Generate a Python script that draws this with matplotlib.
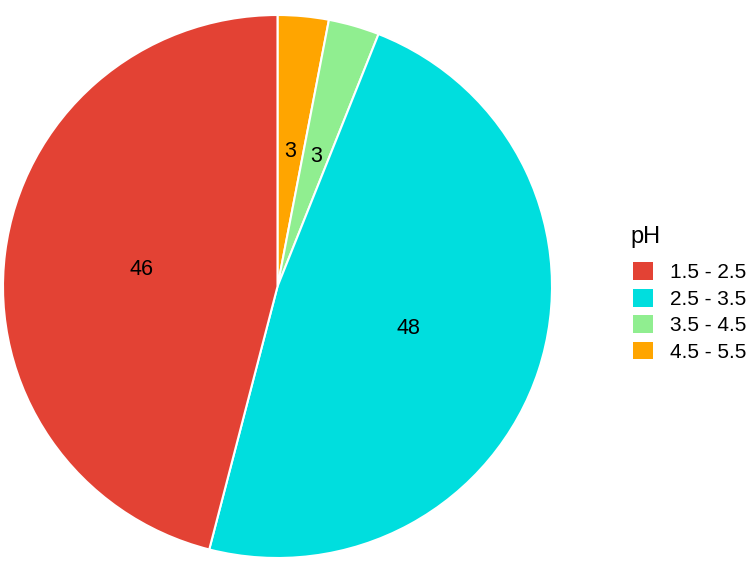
'''
Pie chart of pH classes
'''

import numpy as np
import matplotlib
matplotlib.use('Agg')
import matplotlib.pyplot as plt

# ═══ Data ═════════════════════════════════════════════════════════════════

ph_classes = ['1.5 - 2.5', '2.5 - 3.5', '3.5 - 4.5', '4.5 - 5.5']
counts = [46, 48, 3, 3]
colors = ['#E34234', '#00DEDE', '#90EE90', '#FFA500']

# ═══ Figure ═══════════════════════════════════════════════════════════════

plt.rcParams['font.family'] = ['Liberation Sans', 'DejaVu Sans']

W, H = 750, 578
fig = plt.figure(figsize=(W/100, H/100), dpi=100)

# pie box in px: x 3..552, y 15..558 (slightly wider than tall)
x0, x1, y0, y1 = 3, 552, 15, 558
ax = fig.add_axes([x0/W, (H - y1)/H, (x1 - x0)/W, (y1 - y0)/H])

# clockwise from top: 4.5-5.5, 3.5-4.5, 2.5-3.5, 1.5-2.5
order = [3, 2, 1, 0]
wedges, texts = ax.pie([counts[i] for i in order],
                       colors=[colors[i] for i in order],
                       labels=[str(counts[i]) for i in order],
                       labeldistance=0.5, startangle=90, counterclock=False,
                       radius=1,
                       wedgeprops=dict(edgecolor='white', linewidth=1.5),
                       textprops=dict(fontsize=15.5, color='black',
                                      ha='center', va='center'))
ax.set_aspect('auto')
ax.set_xlim(-1.0, 1.0)
ax.set_ylim(-1.0, 1.0)

# ─── Legend

fig.text(630/W, 1 - 243/H, 'pH', fontsize=17, ha='left', va='baseline')

handles = [wedges[order.index(i)] for i in range(len(ph_classes))]
leg = fig.legend(handles, ph_classes,
                 loc='center left', bbox_to_anchor=(633/W, 1 - 312/H),
                 frameon=False, fontsize=15, borderpad=0,
                 handlelength=0.95, handleheight=0.95, handletextpad=0.85,
                 labelspacing=0.3, borderaxespad=0)
for h in leg.legend_handles:
  h.set_edgecolor('none')

fig.savefig('out.png', dpi=100)
